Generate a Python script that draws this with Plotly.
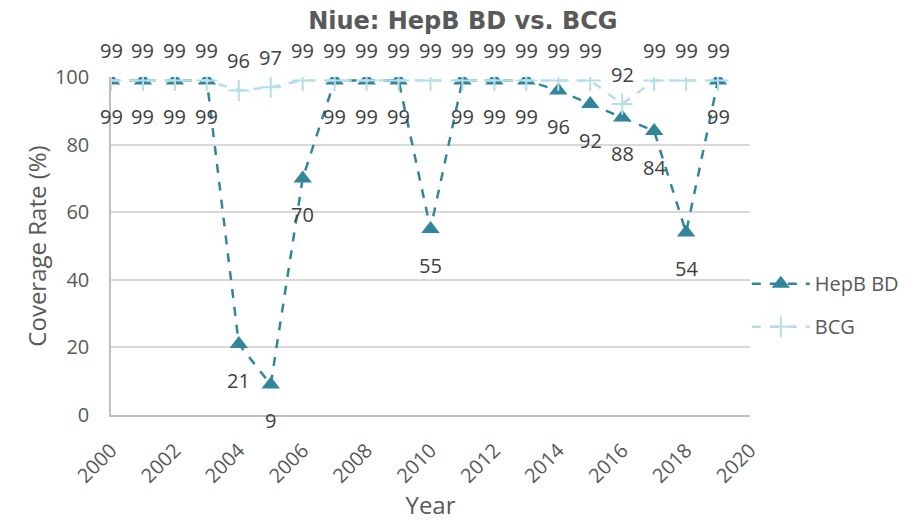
import plotly.graph_objects as go

years = list(range(2000, 2020))
hepb_bd = [99, 99, 99, 99, 21, 9, 70, 99, 99, 99, 55, 99, 99, 99, 96, 92, 88, 84, 54, 99]
bcg = [99, 99, 99, 99, 96, 97, 99, 99, 99, 99, 99, 99, 99, 99, 99, 99, 92, 99, 99, 99]

dark = "#31869B"
light = "#B7DEE8"
grey_txt = "#595959"
font = "Open Sans"

fig = go.Figure()

fig.add_trace(go.Scatter(
    x=years, y=hepb_bd, name="HepB BD", mode="lines+markers",
    line=dict(color=dark, width=2.5, dash="dash"),
    marker=dict(symbol="triangle-up", size=16, color=dark),
    legendgroup="a",
))
fig.add_trace(go.Scatter(
    x=years, y=bcg, name="BCG", mode="lines+markers",
    line=dict(color=light, width=2.5, dash="dash"),
    marker=dict(symbol="cross-thin", size=15, line=dict(color=light, width=2)),
    legendgroup="b",
))

# data labels: BCG above, HepB BD below
for x, v in zip(years, bcg):
    fig.add_annotation(x=x, y=v, text=str(v), showarrow=False, yshift=30,
                       font=dict(size=20, color="#404040", family=font))
for x, v in zip(years, hepb_bd):
    fig.add_annotation(x=x, y=v, text=str(v), showarrow=False, yshift=-36,
                       font=dict(size=20, color="#404040", family=font))

fig.update_layout(
    width=917, height=520,
    paper_bgcolor="white", plot_bgcolor="white",
    margin=dict(l=103, r=175, t=69, b=113, autoexpand=False),
    font=dict(family=font, color=grey_txt, size=20),
    title=dict(text="<b>Niue: HepB BD vs. BCG</b>", x=0.496, xref="container",
               xanchor="center", y=0.975, yanchor="middle",
               font=dict(size=24, color=grey_txt, family="DejaVu Sans")),
    legend=dict(x=0.995, y=0.325, xanchor="left", yanchor="middle",
                font=dict(size=20, color=grey_txt), tracegroupgap=14,
                itemwidth=58, traceorder="grouped", bgcolor="rgba(0,0,0,0)"),
    xaxis=dict(range=[2000, 2020], dtick=2, tick0=2000, tickangle=-45,
               showgrid=False, showline=True, linecolor="#BFBFBF", linewidth=1.5,
               zeroline=False, ticks="", ticklabelstandoff=14, automargin=False,
               title=dict(text="Year", standoff=10),
               tickfont=dict(size=20, color=grey_txt)),
    yaxis=dict(range=[0, 100], dtick=20, showgrid=True, gridcolor="#D9D9D9",
               gridwidth=1.5, showline=True, linecolor="#BFBFBF", linewidth=1.5,
               zeroline=False, ticks="", ticklabelstandoff=16, automargin=False,
               title=dict(text="Coverage Rate (%)", standoff=2),
               tickfont=dict(size=20, color=grey_txt)),
)

fig.write_html("out.html")
